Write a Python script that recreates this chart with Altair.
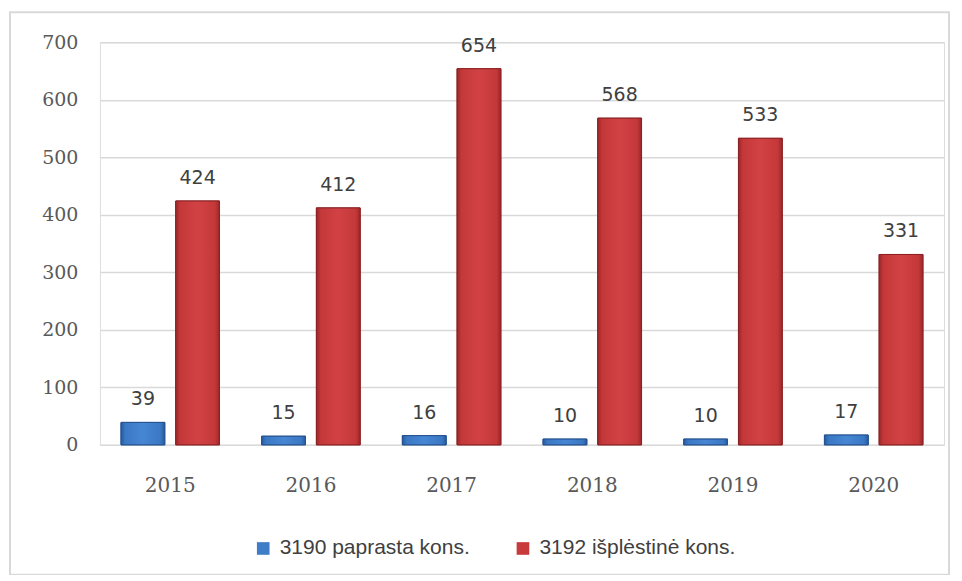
import altair as alt
import pandas as pd

years = ["2015", "2016", "2017", "2018", "2019", "2020"]
series_a = "3190 paprasta kons."
series_b = "3192 išplėstinė kons."
values_a = [39, 15, 16, 10, 10, 17]
values_b = [424, 412, 654, 568, 533, 331]

rows = []
for y, a, b in zip(years, values_a, values_b):
    rows.append({"year": y, "series": series_a, "value": a})
    rows.append({"year": y, "series": series_b, "value": b})
df = pd.DataFrame(rows)

W, H = 845, 403

color_scale = alt.Scale(domain=[series_a, series_b], range=["#3f7dc8", "#c93a3c"])

base = alt.Chart(df).encode(
    x=alt.X("year:N", title=None,
            scale=alt.Scale(paddingInner=0.3, paddingOuter=0.15),
            axis=alt.Axis(labelAngle=0, labelFont="DejaVu Serif", labelFontSize=20,
                          labelColor="#595959", labelPadding=31, domain=False, ticks=False)),
    xOffset=alt.XOffset("series:N", scale=alt.Scale(domain=[series_a, series_b], paddingInner=0.2)),
)

yenc = alt.Y("value:Q", title=None,
             scale=alt.Scale(domain=[0, 700], nice=False),
             axis=alt.Axis(values=list(range(0, 701, 100)), labelFont="DejaVu Serif",
                           labelFontSize=19, labelColor="#595959", labelPadding=22,
                           domain=False, ticks=False, gridColor="#d9d9d9", gridWidth=1.5))

bars = base.mark_bar(strokeWidth=1).encode(
    y=yenc,
    color=alt.Color("series:N", scale=color_scale, title=None,
                    legend=alt.Legend(orient="none", direction="horizontal", legendX=153, legendY=496,
                                      symbolType="square", symbolSize=160, symbolStrokeWidth=0,
                                      labelFont="Liberation Sans", labelFontSize=21, labelLimit=0,
                                      labelColor="#404040", columnPadding=42, labelOffset=6)),
    stroke=alt.Stroke("series:N", scale=alt.Scale(domain=[series_a, series_b],
                                                 range=["#24528f", "#8c2224"]), legend=None),
)

def grad(edge, mid, light):
    return alt.Gradient(gradient="linear", x1=0, x2=1, y1=0, y2=0, stops=[
        alt.GradientStop(color=edge, offset=0),
        alt.GradientStop(color=mid, offset=0.1),
        alt.GradientStop(color=light, offset=0.5),
        alt.GradientStop(color=mid, offset=0.9),
        alt.GradientStop(color=edge, offset=1),
    ])

blue_bars = base.mark_bar(fill=grad("#275a9e", "#3b78c4", "#4686d3"), stroke="#24528f",
                          strokeWidth=1).encode(y="value:Q").transform_filter(
    alt.datum.series == series_a)
red_bars = base.mark_bar(fill=grad("#9a2729", "#c4383a", "#d24244"), stroke="#8c2224",
                         strokeWidth=1).encode(y="value:Q").transform_filter(
    alt.datum.series == series_b)

labels = base.mark_text(baseline="bottom", dy=-13, font="DejaVu Sans", fontSize=19,
                        color="#404040").encode(
    y=alt.Y("value:Q"),
    text=alt.Text("value:Q"),
)

border = alt.Chart(pd.DataFrame({"k": [0]})).mark_rect(
    fill=None, stroke="#d9d9d9", strokeWidth=2, clip=False
).encode(
    x=alt.value(-90), x2=alt.value(850), y=alt.value(-30), y2=alt.value(533)
)

chart = alt.layer(border, bars, blue_bars, red_bars, labels).properties(
    width=W, height=H,
    autosize=alt.AutoSizeParams(type="none"),
    padding={"left": 92, "top": 34, "right": 10, "bottom": 130},
).configure_view(stroke=None).configure(background="white")

chart.save("out.html", embed_options={"renderer": "svg", "actions": False})
